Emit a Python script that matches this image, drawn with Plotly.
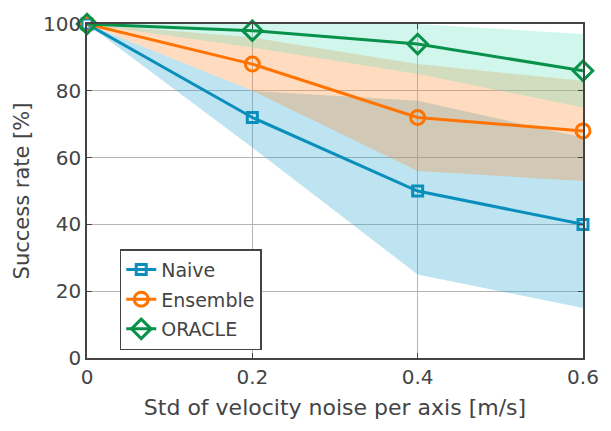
import plotly.graph_objects as go

noise = [0, 0.2, 0.4, 0.6]

naive_mean = [100, 72, 50, 40]
naive_upper = [100, 80, 77, 66]
naive_lower = [100, 63, 25, 15]

ens_mean = [100, 88, 72, 68]
ens_upper = [100, 96, 88, 83]
ens_lower = [100, 80, 56, 53]

oracle_mean = [100, 98, 94, 86]
oracle_upper = [100, 100, 100, 97]
oracle_lower = [100, 93, 85, 75]

series = [
    ("Naive", naive_mean, naive_upper, naive_lower, "#0a8fbd", "rgba(35,165,205,0.30)", "square-open", 10),
    ("Ensemble", ens_mean, ens_upper, ens_lower, "#ff7300", "rgba(255,138,45,0.30)", "circle-open", 14),
    ("ORACLE", oracle_mean, oracle_upper, oracle_lower, "#07914a", "rgba(90,225,185,0.28)", "diamond-open", 15),
]

fig = go.Figure()
for name, mean, up, lo, col, fillc, sym, ms in series:
    fig.add_trace(go.Scatter(
        x=noise + noise[::-1], y=up + lo[::-1], fill="toself", fillcolor=fillc,
        line=dict(width=0), mode="lines", showlegend=False, hoverinfo="skip"))
for name, mean, up, lo, col, fillc, sym, ms in series:
    fig.add_trace(go.Scatter(
        x=noise, y=mean, name=name, legendgroup=name, mode="lines+markers",
        line=dict(color=col, width=3),
        marker=dict(symbol=sym, size=ms, color=col, line=dict(width=3, color=col)),
        cliponaxis=False))

font = "'DejaVu Sans', sans-serif"
fig.update_layout(
    width=611, height=431,
    margin=dict(l=87, r=22, t=18, b=73),
    paper_bgcolor="white", plot_bgcolor="white",
    font=dict(family=font, size=18, color="#444"),
    showlegend=True,
    legend=dict(x=0.066, y=0.326, xanchor="left", yanchor="top",
                bgcolor="white", bordercolor="#444", borderwidth=1.5,
                font=dict(size=19, color="#444"), itemwidth=30,
                tracegroupgap=2),
    xaxis=dict(range=[0, 0.6], tickvals=[0, 0.2, 0.4, 0.6], ticktext=["0", "0.2", "0.4", "0.6"],
               showgrid=True, gridcolor="#b5b5b5", gridwidth=1,
               showline=True, linecolor="#444", linewidth=1.5, mirror="ticks",
               ticks="inside", ticklen=5, tickcolor="#444",
               zeroline=False,
               title=dict(text="Std of velocity noise per axis [m/s]", standoff=12,
                          font=dict(size=22, color="#444")),
               tickfont=dict(size=20, color="#444")),
    yaxis=dict(range=[0, 100], tickvals=[0, 20, 40, 60, 80, 100],
               showgrid=True, gridcolor="#b5b5b5", gridwidth=1,
               showline=True, linecolor="#444", linewidth=1.5, mirror="ticks",
               ticks="inside", ticklen=5, tickcolor="#444",
               zeroline=False,
               title=dict(text="Success rate [%]", standoff=8,
                          font=dict(size=21, color="#444")),
               tickfont=dict(size=20, color="#444")),
)

fig.write_html("out.html")
